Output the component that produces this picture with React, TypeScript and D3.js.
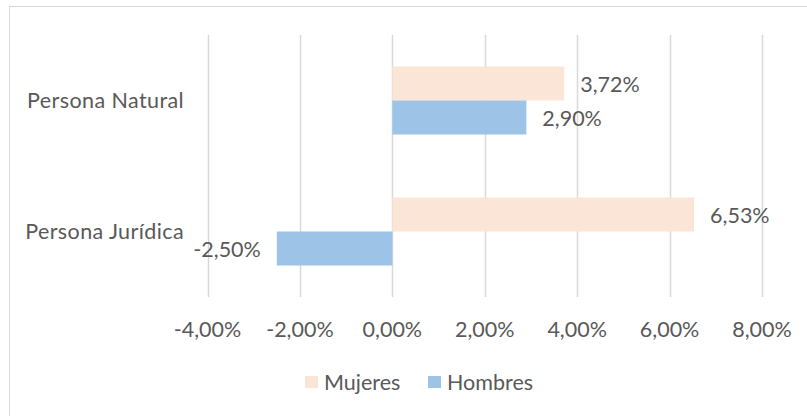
import React from "react";
import * as d3 from "d3";

const categories = ["Persona Natural", "Persona Jurídica"];
const seriesNames = ["Mujeres", "Hombres"];
const mujeres = [3.72, 6.53];
const hombres = [2.9, -2.5];
const xTicks = [-4, -2, 0, 2, 4, 6, 8];

const colors = ["#FBE5D6", "#9DC3E6"];
const FONT = "Lato, 'Open Sans', sans-serif";
const TXT = "#595959";
const FS = 21.5;

const fmt = (v: number) => v.toFixed(2).replace(".", ",") + "%";

export default function App() {
  const W = 807, H = 416;
  const plotTop = 35, plotBottom = 297;
  const x = d3.scaleLinear().domain([-4, 8]).range([207.5, 762]);
  const y0 = d3.scaleBand<string>().domain(categories).range([plotTop, plotBottom]).paddingInner(0).paddingOuter(0);
  const groupH = 68;
  const y1 = d3.scaleBand<string>().domain(seriesNames).range([0, groupH]);
  const series = [mujeres, hombres];

  return (
    <svg width={W} height={H} style={{ position: "absolute", left: 0, top: 0, background: "#fff" }} fontFamily={FONT}>
      <rect x={9.5} y={6.5} width={W + 10} height={H + 10} fill="#fff" stroke="#d9d9d9" strokeWidth={1} />
      {xTicks.map((t) => (
        <line key={t} x1={Math.round(x(t)) + 0.5} x2={Math.round(x(t)) + 0.5} y1={plotTop} y2={plotBottom} stroke="#d9d9d9" strokeWidth={1.5} />
      ))}
      {categories.map((c, i) => {
        const gy = y0(c)! + y0.bandwidth() / 2 - groupH / 2;
        return (
          <g key={c}>
            {series.map((s, si) => {
              const v = s[i];
              const bx = Math.min(x(0), x(v));
              const bw = Math.abs(x(v) - x(0));
              const by = gy + y1(seriesNames[si])!;
              const bh = y1.bandwidth();
              return (
                <g key={si}>
                  <rect x={bx} y={by} width={bw} height={bh} fill={colors[si]} />
                  <text
                    x={v >= 0 ? x(v) + 16 : x(v) - 16}
                    y={by + bh / 2 + 1}
                    dy="0.35em"
                    textAnchor={v >= 0 ? "start" : "end"}
                    fontSize={FS}
                    fill={TXT}
                  >
                    {fmt(v)}
                  </text>
                </g>
              );
            })}
            <text x={184} y={y0(c)! + y0.bandwidth() / 2} dy="0.35em" textAnchor="end" fontSize={FS} letterSpacing={0.4} fill={TXT}>
              {c}
            </text>
          </g>
        );
      })}
      {xTicks.map((t) => (
        <text key={t} x={x(t)} y={329} dy="0.35em" textAnchor="middle" fontSize={FS} fill={TXT}>
          {fmt(t)}
        </text>
      ))}
      {seriesNames.map((n, i) => {
        const lx = [305, 428][i];
        return (
          <g key={n}>
            <rect x={lx} y={376} width={13} height={12} fill={colors[i]} />
            <text x={lx + 19} y={382} dy="0.35em" fontSize={FS} fill={TXT}>
              {n}
            </text>
          </g>
        );
      })}
    </svg>
  );
}
